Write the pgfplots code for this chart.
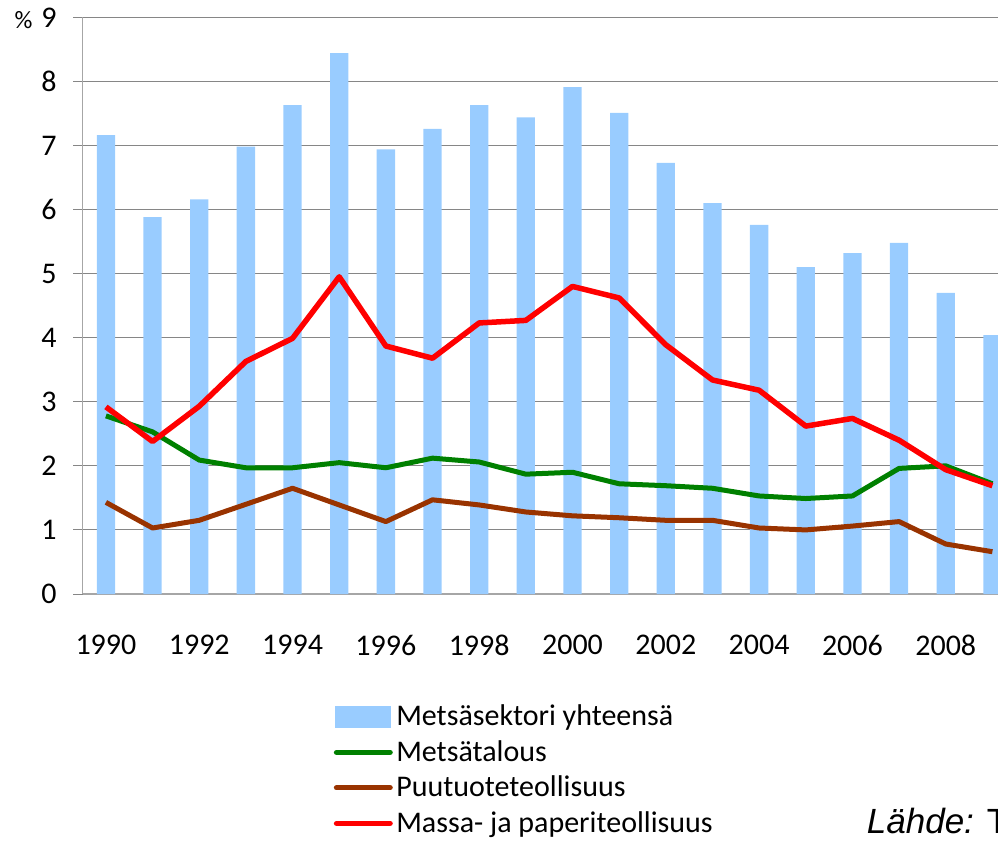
\documentclass[border=0pt]{standalone}
\usepackage{fontspec}
\setmainfont{Carlito}
\newfontfamily\arialfont{Liberation Sans}
\usepackage{pgfplots}
\usepackage{pgfplotstable}
\pgfplotsset{compat=1.18}
\definecolor{barblue}{HTML}{99CCFF}
\definecolor{lgreen}{HTML}{008000}
\definecolor{lbrown}{HTML}{993300}
\definecolor{lred}{HTML}{FF0000}
\definecolor{gridgray}{HTML}{868686}
\definecolor{axisgray}{HTML}{A6A6A6}

\pgfplotstableread{
year total metsa puu massa
1990 7.16 2.78 1.43 2.92
1991 5.88 2.53 1.03 2.38
1992 6.16 2.09 1.15 2.93
1993 6.98 1.97 1.40 3.63
1994 7.63 1.97 1.65 3.99
1995 8.44 2.05 1.39 4.95
1996 6.94 1.97 1.13 3.87
1997 7.26 2.12 1.47 3.68
1998 7.63 2.06 1.39 4.23
1999 7.44 1.87 1.28 4.27
2000 7.91 1.90 1.22 4.80
2001 7.51 1.72 1.19 4.62
2002 6.73 1.69 1.15 3.89
2003 6.10 1.65 1.15 3.34
2004 5.76 1.53 1.03 3.18
2005 5.10 1.49 1.00 2.62
2006 5.32 1.53 1.06 2.74
2007 5.48 1.96 1.13 2.40
2008 4.70 2.00 0.78 1.94
2009 4.04 1.72 0.66 1.69
}\datatable

\begin{document}
\begin{tikzpicture}
\useasboundingbox (0,0) rectangle (998pt,841pt);
\clip (0,0) rectangle (998pt,841pt);
\begin{axis}[
  at={(82.6pt,247pt)}, anchor=south west,
  scale only axis, width=915.4pt, height=576.7pt,
  xmin=1989.5, xmax=2009.12, ymin=0, ymax=9,
  axis lines=left,
  axis line style={-, draw=axisgray, line width=1.2pt},
  ymajorgrids, grid style={draw=gridgray, line width=1pt},
  xtick={1990,1992,...,2008},
  ytick={0,1,...,9},
  tick align=outside,
  major tick length=9.5pt,
  xtick style={draw=none},
  ytick style={draw=gridgray, line width=1pt},
  /pgf/number format/assume math mode=true,
  x tick label style={/pgf/number format/1000 sep={}, font=\fontsize{30}{30}\selectfont, yshift=-28pt},
  y tick label style={font=\fontsize{30}{30}\selectfont, xshift=-13pt},
  legend style={at={(0.2745,-0.1822)}, anchor=north west, draw=none, fill=none,
    inner sep=0pt, outer sep=0pt, column sep=0pt, row sep=0pt,
    font=\fontsize{30}{30}\selectfont,
    nodes={inner xsep=3.5pt, inner ysep=3.75pt, text height=23pt, text depth=5pt}},
  legend cell align=left,
]
\addplot[ybar, bar width=18.3pt, fill=barblue, draw=none,
  legend image code/.code={\fill[barblue, draw=none] (0pt,-10.85pt) rectangle (56pt,10.85pt);}]
  table[x=year,y=total]{\datatable};
\addlegendentry{Metsäsektori yhteensä}
\addplot[lgreen, line width=5pt, line join=round, mark=none,
  legend image code/.code={\path[draw=none, fill=none] (0pt,-10.85pt) rectangle (56pt,10.85pt);
    \draw[lgreen, line width=5.3pt, line cap=round] (1.2pt,0pt) -- (54.8pt,0pt);}]
  table[x=year,y=metsa]{\datatable};
\addlegendentry{Metsätalous}
\addplot[lbrown, line width=5pt, line join=round, mark=none,
  legend image code/.code={\path[draw=none, fill=none] (0pt,-10.85pt) rectangle (56pt,10.85pt);
    \draw[lbrown, line width=5.3pt, line cap=round] (1.2pt,0pt) -- (54.8pt,0pt);}]
  table[x=year,y=puu]{\datatable};
\addlegendentry{Puutuoteteollisuus}
\addplot[lred, line width=5.5pt, line join=round, mark=none,
  legend image code/.code={\path[draw=none, fill=none] (0pt,-10.85pt) rectangle (56pt,10.85pt);
    \draw[lred, line width=5.3pt, line cap=round] (1.2pt,0pt) -- (54.8pt,0pt);}]
  table[x=year,y=massa]{\datatable};
\addlegendentry{Massa- ja paperiteollisuus}
\end{axis}
\node[anchor=north, inner sep=0pt, font=\fontsize{25}{25}\selectfont] at (23.5pt,829.3pt) {\%};
\node[anchor=base west, inner sep=0pt, font=\arialfont\fontsize{35}{35}\selectfont] at (866.7pt,7.7pt) {\textit{Lähde:} Tilastokeskus};
\end{tikzpicture}
\end{document}
